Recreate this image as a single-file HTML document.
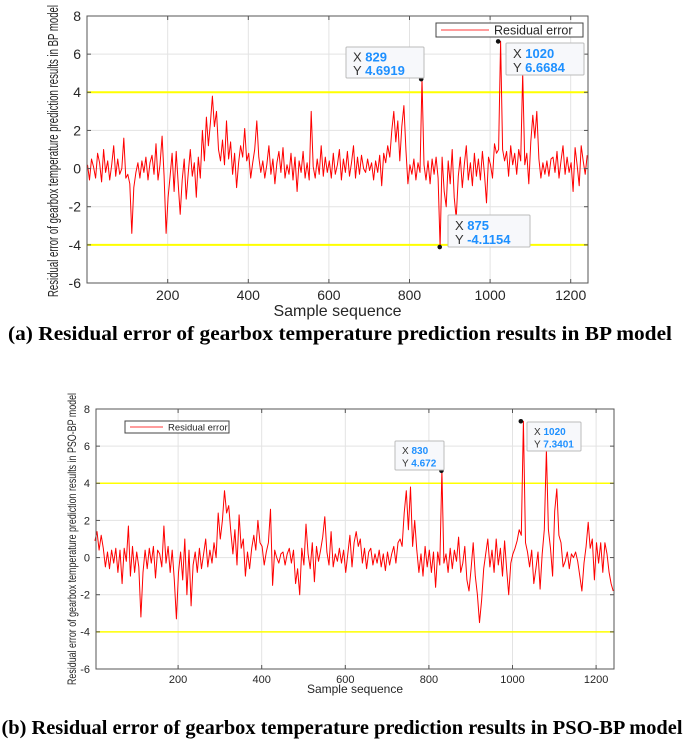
<!DOCTYPE html>
<html><head><meta charset="utf-8"><style>
html,body{margin:0;padding:0;background:#fff;width:685px;height:739px;overflow:hidden}
svg{display:block}
.t{font-family:"Liberation Sans",Arial,sans-serif;fill:#262626}
.cap{font-family:"Liberation Serif","Times New Roman",serif;font-weight:bold;fill:#000}
</style></head><body>
<svg id="svg" width="685" height="739" viewBox="0 0 685 739"></svg>
<script>
// ---- data ----
const xStart = 1;
const xStep = 5;
const xTicks = [200,400,600,800,1000,1200];
const yTicks = [-6,-4,-2,0,2,4,6,8];
const thresholds = [4,-4];
const bpResidual = [
0.2,-0.6,0.5,0.1,-0.5,0.8,0.3,-0.7,1.0,-0.2,0.4,-0.6,0.2,1.2,-0.4,0.5,-0.3,0.0,1.6,-0.5,
-0.3,-0.8,-3.4,-1.0,-0.2,0.3,-0.5,0.4,-0.2,0.6,-0.6,0.3,0.7,-0.3,1.3,-0.6,0.2,1.7,-0.4,-3.4,
-1.5,-0.4,0.8,-1.2,0.9,-0.8,-2.4,-0.6,0.5,-1.6,-0.2,1.0,-0.4,0.3,-1.5,0.6,-0.5,2.0,0.4,2.7,
1.2,2.4,3.8,2.2,3.0,1.0,0.4,1.5,0.2,2.5,0.5,1.4,-0.3,0.8,-1.0,0.3,1.2,0.6,2.1,0.4,
0.8,-0.5,0.3,1.0,2.5,0.6,-0.2,0.4,-0.5,0.2,1.2,-0.3,0.5,-0.8,0.3,0.9,-0.2,1.1,-0.5,0.2,
-0.3,0.8,-0.6,0.6,-1.2,0.4,-0.2,0.9,-0.5,0.3,-0.6,3.0,0.1,-0.5,0.5,-0.3,1.2,-0.4,0.6,-0.2,
0.4,-0.5,0.8,-0.3,0.2,1.0,-0.6,0.5,-0.2,0.9,-0.4,0.3,1.2,-0.5,0.6,-0.3,0.7,0.0,-0.2,0.5,
-0.1,0.3,-0.6,0.4,-0.2,0.7,-0.9,0.8,0.3,1.2,0.6,2.0,3.0,1.4,2.5,0.4,2.2,3.3,1.0,-0.8,
0.2,-0.3,0.5,-0.6,0.3,-0.2,4.6919,0.2,-0.6,0.4,-0.8,0.5,-0.3,0.6,-0.5,-4.1154,0.6,-1.2,-2.0,0.4,
-0.8,1.0,-1.5,-2.6,-0.4,0.6,-1.0,0.2,1.2,-0.6,0.3,-0.9,0.8,-0.4,0.5,-0.6,0.9,-0.3,-1.8,0.6,
0.2,-0.5,1.3,0.8,1.0,6.6684,1.0,0.4,0.9,-0.4,1.2,0.2,0.8,-0.3,1.0,0.4,5.0,0.2,0.8,-0.8,
1.4,2.8,1.6,3.0,0.5,-0.5,0.3,-0.3,0.4,-0.4,0.5,0.6,-0.2,0.9,-0.5,0.4,1.2,-0.3,0.6,-0.2,
0.3,-1.2,1.1,0.2,-0.9,1.2,0.4,-0.3,0.7];
const psoResidual = [
0.9,1.4,0.4,1.2,0.5,-0.5,0.3,-0.6,0.4,-0.3,0.5,-0.8,0.4,-1.4,0.5,-0.2,1.7,-1.0,0.6,-0.8,
0.3,-0.5,-3.2,-0.8,0.4,-0.6,0.5,-0.3,0.6,-1.1,0.4,0.2,-0.5,1.7,-0.3,0.6,-0.8,0.4,-1.2,-3.3,
-0.8,0.3,-1.2,1.0,-2.0,0.4,-2.6,-0.4,0.3,-0.8,0.5,-0.6,0.2,1.0,-0.5,0.4,-0.3,0.8,0.0,2.4,
1.0,2.0,3.6,2.4,2.8,1.4,0.2,1.5,-0.4,2.3,0.5,1.0,-1.0,0.3,-0.6,0.5,1.2,0.4,2.0,0.8,
0.6,-0.4,0.3,0.8,2.6,-1.5,0.4,0.0,-0.3,0.2,0.3,-0.4,0.2,0.5,-0.3,0.4,-1.4,-0.6,-2.0,0.5,
-0.4,1.8,0.2,-0.6,0.8,-1.3,0.6,-0.2,0.4,1.1,2.2,0.3,-0.4,1.4,-0.5,0.2,-0.2,0.5,-0.3,0.4,
-0.8,0.2,1.2,-0.5,0.8,1.4,0.6,1.0,-0.3,0.5,-0.6,0.3,0.5,-0.4,0.2,-0.3,0.4,-0.5,0.2,-0.7,
0.3,-0.4,0.2,0.6,-0.3,0.8,1.0,0.6,2.4,3.6,1.5,3.8,0.6,2.0,0.4,-0.8,0.2,-1.0,0.6,-0.5,
0.4,-0.8,0.3,-1.6,0.3,-0.4,4.672,-0.3,0.2,-0.8,0.5,-0.6,0.4,-0.2,1.1,-0.8,-0.3,0.6,-1.2,-1.8,
-0.6,0.8,-1.0,-2.0,-3.5,-2.3,-0.6,0.2,1.0,-0.5,0.4,-0.8,1.0,-0.4,0.5,-1.0,0.9,-0.6,-2.0,-0.3,
0.2,0.5,0.9,1.5,1.2,7.3401,0.8,0.3,-0.5,0.4,-1.4,-0.6,0.3,-1.7,0.2,1.5,5.8,1.5,0.5,-1.0,
2.5,3.7,1.2,0.8,-0.5,-0.2,0.3,-0.6,0.2,0.0,0.3,-0.2,-1.0,-1.8,-0.3,0.6,1.9,0.5,1.0,-1.2,
0.8,-0.3,0.8,-0.8,0.8,0.2,-0.8,-1.4,-1.8];
const bpTipX = [829,1020,875];
const bpTipY = [4.6919,6.6684,-4.1154];
const psoTipX = [830,1020];
const psoTipY = [4.672,7.3401];

// ---- drawing ----
const NS="http://www.w3.org/2000/svg";
const svg=document.getElementById('svg');
function el(tag,attrs,parent,txt){const e=document.createElementNS(NS,tag);for(const k in attrs)e.setAttribute(k,attrs[k]);if(txt!==undefined)e.textContent=txt;(parent||svg).appendChild(e);return e;}

function drawChart(cfg){
  const g=el('g',{});
  
  
  const L=cfg.left,R=cfg.right,T=cfg.top,B=cfg.bottom;
  const sx=v=>cfg.x0px+(v)*cfg.kx;
  const sy=v=>T+(8-v)*(B-T)/14;
  xTicks.forEach(t=>{const l=el('line',{x1:sx(t),x2:sx(t),y1:T,y2:B,stroke:'#e3e3e3','stroke-width':1},g);
    });
  yTicks.forEach(t=>{const l=el('line',{x1:L,x2:R,y1:sy(t),y2:sy(t),stroke:'#e3e3e3','stroke-width':1},g);
    });
  thresholds.forEach(t=>{const l=el('line',{x1:L,x2:R,y1:sy(t),y2:sy(t),stroke:'#ffff00','stroke-width':cfg.yw},g);
    });
  const pts=cfg.data.map((v,i)=>sx(xStart+i*xStep).toFixed(1)+','+sy(v).toFixed(1)).join(' ');
  const pl=el('polyline',{points:pts,fill:'none',stroke:'#ff0000','stroke-width':1,'stroke-linejoin':'round'},g);
  
  const bx=el('rect',{x:L,y:T,width:R-L,height:B-T,fill:'none',stroke:'#555','stroke-width':1},g);
  
  xTicks.forEach(t=>{
    el('line',{x1:sx(t),x2:sx(t),y1:B,y2:B-4,stroke:'#555'},g);
    el('line',{x1:sx(t),x2:sx(t),y1:T,y2:T+4,stroke:'#555'},g);
    const tx=el('text',{x:sx(t),y:B+cfg.fs+3,'text-anchor':'middle','font-size':cfg.fs,class:'t'},g,String(t));
    });
  yTicks.forEach(t=>{
    el('line',{x1:L,x2:L+4,y1:sy(t),y2:sy(t),stroke:'#555'},g);
    el('line',{x1:R,x2:R-4,y1:sy(t),y2:sy(t),stroke:'#555'},g);
    const tx=el('text',{x:L-6,y:sy(t)+cfg.fs*0.35,'text-anchor':'end','font-size':cfg.fs,class:'t'},g,String(t));
    });
  const xl=el('text',{x:(L+R)/2,y:cfg.xlabelY,'text-anchor':'middle','font-size':cfg.xfs,class:'t'},g,'Sample sequence');
  
  const yl=el('text',{x:0,y:0,'text-anchor':'middle','font-size':cfg.yfs,class:'t',transform:`translate(${cfg.ylabelX},${cfg.ylabelY}) rotate(-90)`,textLength:cfg.ylen,lengthAdjust:'spacingAndGlyphs'},g,cfg.ytitle);
  
  const lg=cfg.legend;
  const lgG=el('g',{},g);
  
  el('rect',{x:lg.x,y:lg.y,width:lg.w,height:lg.h,fill:'#fff',stroke:'#444','stroke-width':1},lgG);
  el('line',{x1:lg.x+5,x2:lg.x+5+lg.line,y1:lg.y+lg.h/2,y2:lg.y+lg.h/2,stroke:'#ff6060','stroke-width':1.2},lgG);
  const lt=el('text',{x:lg.x+10+lg.line,y:lg.y+lg.h/2+cfg.lfs*0.36,'font-size':cfg.lfs,class:'t'},lgG,'Residual error');
  
  cfg.tipX.forEach((xv,i)=>{
    const b=cfg.boxes[i];
    const tg=el('g',{},g);
    
    el('circle',{cx:sx(xv),cy:sy(cfg.tipY[i]),r:2.3,fill:'#111'},tg);
    el('rect',{x:b[0],y:b[1],width:b[2],height:b[3],fill:'#f7f8fb',stroke:'#bbb','stroke-width':1,rx:1},tg);
    const lh=b[3]/2;
    const t1=el('text',{x:b[0]+7,y:b[1]+lh*0.5+cfg.tfs*0.38+2,'font-size':cfg.tfs,class:'t'},tg);
    el('tspan',{fill:'#333'},t1,'X ');
    el('tspan',{fill:'#1e90ff','font-weight':'bold'},t1,String(xv));
    const t2=el('text',{x:b[0]+7,y:b[1]+lh*1.5+cfg.tfs*0.38,'font-size':cfg.tfs,class:'t'},tg);
    el('tspan',{fill:'#333'},t2,'Y ');
    el('tspan',{fill:'#1e90ff','font-weight':'bold'},t2,String(cfg.tipY[i]));
  });
}

drawChart({name:'bp-chart',data:bpResidual,left:87,right:588,top:16,bottom:283,x0px:87.1,kx:0.403,
  fs:14,xfs:16,yw:2,xlabelY:316,ylabelX:58,ylabelY:151,yfs:15,ylen:292,
  ytitle:'Residual error of gearbox temperature prediction results in BP model',
  legend:{x:436,y:23,w:147,h:14,line:48},lfs:12.5,tfs:13,
  tipX:bpTipX,tipY:bpTipY,boxes:[[346,47,78,31],[506,43,78,32],[448,215,82,32]]});

drawChart({name:'pso-bp-chart',data:psoResidual,left:96,right:614,top:409,bottom:669,x0px:94.5,kx:0.418,
  fs:11,xfs:12,yw:1.5,xlabelY:693,ylabelX:76,ylabelY:539,yfs:12,ylen:292,
  ytitle:'Residual error of gearbox temperature prediction results in PSO-BP model',
  legend:{x:125,y:421,w:104,h:12,line:33},lfs:9.5,tfs:10,
  tipX:psoTipX,tipY:psoTipY,boxes:[[395,441,49,29],[527,422,54,29]]});

const c1=el('text',{x:340,y:340,'text-anchor':'middle','font-size':19.5,class:'cap',textLength:664,lengthAdjust:'spacingAndGlyphs'},svg,'(a) Residual error of gearbox temperature prediction results in BP model');


const c2=el('text',{x:342,y:734,'text-anchor':'middle','font-size':19.5,class:'cap',textLength:681,lengthAdjust:'spacingAndGlyphs'},svg,'(b) Residual error of gearbox temperature prediction results in PSO-BP model');


</script>
</body></html>
